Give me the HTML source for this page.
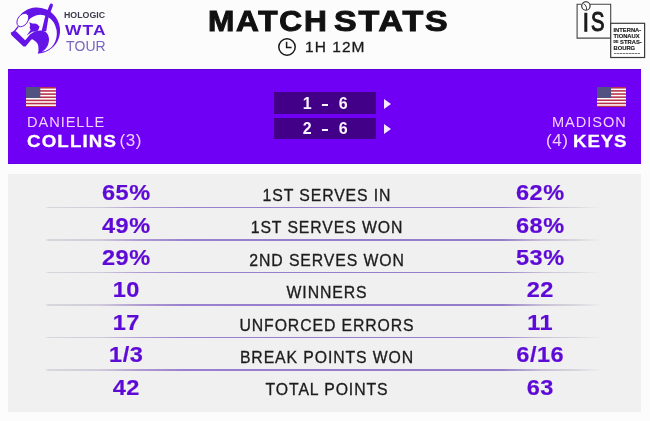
<!DOCTYPE html>
<html><head><meta charset="utf-8">
<style>
*{margin:0;padding:0;box-sizing:border-box}
body{will-change:transform}
html,body{width:650px;height:421px;overflow:hidden;background:#fdfcfd;font-family:"Liberation Sans",Arial,sans-serif}
.a{position:absolute;white-space:nowrap}
#banner{position:absolute;left:8px;top:69.4px;width:633px;height:94.2px;background:#7000f5;box-shadow:inset 0 1.3px 0 #5f00dc,inset 0 -1px 0 #6500e6}
#panel{position:absolute;left:8px;top:174px;width:633px;height:238px;background:#f0f0f0}
.title{left:207.5px;top:4.6px;font-size:29px;font-weight:bold;color:#111;letter-spacing:1.6px;transform-origin:0 0;transform:scaleX(1.09);-webkit-text-stroke:1px #111}
.dur{left:305px;top:38.2px;font-size:15.5px;color:#1a1a1a;letter-spacing:1.05px;-webkit-text-stroke:0.3px #1a1a1a}
.box{position:absolute;left:274px;width:102px;height:21.5px;background:#410087}
.sc{position:absolute;left:275.5px;width:102px;text-align:center;color:#fbf3ff;font-weight:bold;font-size:16px;letter-spacing:2.5px;word-spacing:1.5px}
.dash{display:inline-block;transform:scaleX(1.5)}
.ist{left:613.5px;font-size:5.8px;line-height:7px;font-weight:bold;color:#202020;-webkit-text-stroke:0.15px #202020}
.tri{position:absolute;left:384px;width:0;height:0;border-left:7px solid #f6e8ff;border-top:5px solid transparent;border-bottom:5px solid transparent}
.fn{font-size:13.5px;color:#f3d2ff;letter-spacing:1.6px}
.ln{font-size:17px;color:#fff;font-weight:bold;letter-spacing:0.8px;transform:scaleX(1.1);transform-origin:0 0;-webkit-text-stroke:0.3px #fff}
.seed{font-size:17px;color:#f0d0ff;font-weight:normal;letter-spacing:0.6px}

.sep{position:absolute;left:45px;width:557px;height:1.6px;background:linear-gradient(to right,rgba(200,200,206,0) 0%,rgba(212,210,216,.85) 0.6%,rgb(208,203,218) 9.9%,rgb(175,155,210) 17%,#9a80d0 25%,#937cc9 82%,rgb(200,190,215) 89%,rgba(212,210,216,.8) 95.5%,rgba(220,220,224,0) 100%)}
.lbl{position:absolute;left:0;width:650px;text-align:center;font-size:15.8px;color:#1c1c1c;letter-spacing:0.9px;text-indent:4px;-webkit-text-stroke:0.3px #1c1c1c}
.num{position:absolute;width:100px;text-align:center;font-size:21.8px;font-weight:bold;color:#5e0ad6;letter-spacing:0.5px;text-indent:0.5px;transform:scaleX(1.08);-webkit-text-stroke:0.2px #5e0ad6}
.nl{left:76.4px}
.nr{left:489.8px}
</style></head><body>

<!-- WTA logo -->
<svg class="a" style="left:0;top:0" width="64" height="56" viewBox="0 0 64 56">
  <g fill="#6414e6">
    <path fill-rule="evenodd" d="M20.6 14.4 A23 23 0 1 1 37.5 53.5 L38.5 52 A16.6 18.6 0 1 0 26.5 23 Z"/>
    <path d="M41.5 31.5 L46.2 31.2 L48.4 18 L52.8 6 L52.8 4.2 L50.8 3.3 L49.3 5.6 L45 17 Z"/>
    <path d="M29.8 35 C32.5 32 36.5 30.4 40.5 30.4 C45.5 30.6 48.8 33.5 49 39 C49 45 46.5 50.5 38.3 53.4 C38.6 49 38.7 45.5 37.4 43.5 C36.2 41.7 34.5 40.5 32.5 39.5 Z"/>
    <path d="M10.6 32.8 L13.4 31.2 L16 31.3 L25.2 40.3 L30 34.5 L33.5 33.4 L35 36.5 L30.5 40.6 L25.6 46.5 L23.5 46.6 L11.5 35.3 Z"/>
    <ellipse cx="34.4" cy="27.6" rx="4.7" ry="4.2"/>
    <path d="M29.4 22.2 L33.5 24 L30.5 27 Z"/>
    <path d="M36 25.2 L39.8 26.6 L37.2 29 Z"/>
    <path d="M31 29.5 L33.5 31 L26.6 35.6 Z"/>
  </g>
  <ellipse cx="22.8" cy="20" rx="7.4" ry="5" transform="rotate(-55 22.8 20)" fill="#fff" stroke="#6414e6" stroke-width="0.9"/>
  <path d="M18.4 26.3 L13.5 32.5" stroke="#6414e6" stroke-width="1.3" fill="none"/>
</svg>
<div class="a" style="left:64px;top:9.6px;font-size:8.3px;font-weight:bold;color:#3b3a4c;letter-spacing:0px;transform:scaleX(1.06);transform-origin:0 0">HOLOGIC</div>
<div class="a" style="left:64.5px;top:21.6px;font-size:14px;font-weight:bold;color:#5c16dc;letter-spacing:0.9px;transform:scaleX(1.24);transform-origin:0 0">WTA</div>
<div class="a" style="left:66px;top:37.9px;font-size:14px;color:#7866bd;letter-spacing:0.1px">TOUR</div>

<!-- Title -->
<div class="a title" id="title">MATCH</div><div class="a title" style="left:334px;transform:scaleX(1.17)">STATS</div>
<svg class="a" style="left:278px;top:38.2px" width="18" height="18" viewBox="0 0 18 18">
  <circle cx="9" cy="9" r="8.2" fill="none" stroke="#1a1a1a" stroke-width="1.5"/>
  <path d="M8.6 3.8 V9.4 H13.6" fill="none" stroke="#1a1a1a" stroke-width="1.5"/>
</svg>
<div class="a dur">1H 12M</div>

<!-- IS logo -->
<svg class="a" style="left:570px;top:0" width="80" height="60" viewBox="0 0 80 60">
  <path d="M11.5 4.3 H7.1 V38.1 H40.7 V4.3 H19.5" fill="none" stroke="#444" stroke-width="1.1"/>
  <rect x="40.7" y="23.3" width="33.9" height="34.2" fill="#fff" stroke="#3a3a3a" stroke-width="1.2"/>
  <circle cx="15.9" cy="6" r="4.2" fill="#fff" stroke="#222" stroke-width="1.1"/>
  <path d="M13.4 3.6 C15.6 4.6 16.9 7 16.5 9.8" fill="none" stroke="#222" stroke-width="0.9"/>
  <rect x="14.3" y="12.8" width="3" height="19" fill="#1a1a1a"/>
</svg>
<div class="a" style="left:591.2px;top:6px;font-size:28px;color:#1a1a1a;transform:scaleX(0.72);transform-origin:0 0;-webkit-text-stroke:1.1px #1a1a1a">S</div>
<div class="a ist" style="top:27.3px">INTERNA-</div>
<div class="a ist" style="top:33.1px">TIONAUX</div>
<div class="a ist" style="top:39.4px"><span style="font-size:3.6px;vertical-align:1.4px">DE</span> STRAS-</div>
<div class="a ist" style="top:45px">BOURG</div>
<div class="a" style="left:613.7px;top:52.8px;width:26px;height:1.2px;background:repeating-linear-gradient(to right,#777 0 2px,#bbb 2px 3px)"></div>

<!-- Banner -->
<div id="banner"></div>
<svg class="a" style="left:26.2px;top:86.5px" width="30" height="20.5" viewBox="0 0 30 20.5" preserveAspectRatio="none" id="flagL">
  <rect width="30" height="20.5" fill="#fff"/>
  <g fill="#b8304a">
    <rect y="0" width="30" height="1.58"/><rect y="3.15" width="30" height="1.58"/><rect y="6.3" width="30" height="1.58"/>
    <rect y="9.46" width="30" height="1.58"/><rect y="12.6" width="30" height="1.58"/><rect y="15.77" width="30" height="1.58"/><rect y="18.92" width="30" height="1.58"/>
  </g>
  <rect width="14.3" height="11" fill="#525282"/>
</svg>
<svg class="a" style="left:596.5px;top:86.8px" width="29.5" height="20.3" viewBox="0 0 30 20.5" preserveAspectRatio="none">
  <rect width="30" height="20.5" fill="#fff"/>
  <g fill="#b8304a">
    <rect y="0" width="30" height="1.58"/><rect y="3.15" width="30" height="1.58"/><rect y="6.3" width="30" height="1.58"/>
    <rect y="9.46" width="30" height="1.58"/><rect y="12.6" width="30" height="1.58"/><rect y="15.77" width="30" height="1.58"/><rect y="18.92" width="30" height="1.58"/>
  </g>
  <rect width="14.3" height="11" fill="#525282"/>
</svg>

<div class="a fn" style="left:27px;top:114.2px;font-size:14.6px;letter-spacing:0.95px">DANIELLE</div>
<div class="a ln" id="collins" style="left:27px;top:131.9px;letter-spacing:1.05px">COLLINS</div>
<div class="a seed" id="s3" style="left:119.5px;top:131.4px">(3)</div>
<div class="a fn" id="madison" style="left:552px;top:114.2px;font-size:14.6px;letter-spacing:0.95px">MADISON</div>
<div class="a seed" id="s4" style="left:546px;top:131.4px">(4)</div>
<div class="a ln" id="keys" style="left:573px;top:131.9px">KEYS</div>

<div class="box" style="top:92px"></div>
<div class="box" style="top:117.7px"></div>
<div class="sc" style="top:94.8px">1 <span class="dash">-</span> 6</div>
<div class="sc" style="top:120.3px">2 <span class="dash">-</span> 6</div>
<div class="tri" style="top:99px"></div>
<div class="tri" style="top:124px"></div>

<!-- Stats panel -->
<div id="panel"></div>

<div class="sep" style="top:206.90px"></div>
<div class="sep" style="top:239.35px"></div>
<div class="sep" style="top:271.80px"></div>
<div class="sep" style="top:304.25px"></div>
<div class="sep" style="top:336.70px"></div>
<div class="sep" style="top:369.15px"></div>

<div class="num nl" style="top:180.1px">65%</div><div class="lbl" style="top:186.9px">1ST SERVES IN</div><div class="num nr" style="top:180.1px">62%</div>
<div class="num nl" style="top:212.5px">49%</div><div class="lbl" style="top:219.3px">1ST SERVES WON</div><div class="num nr" style="top:212.5px">68%</div>
<div class="num nl" style="top:244.9px">29%</div><div class="lbl" style="top:251.7px">2ND SERVES WON</div><div class="num nr" style="top:244.9px">53%</div>
<div class="num nl" style="top:277.3px">10</div><div class="lbl" style="top:284.1px">WINNERS</div><div class="num nr" style="top:277.3px">22</div>
<div class="num nl" style="top:309.7px">17</div><div class="lbl" style="top:316.5px">UNFORCED ERRORS</div><div class="num nr" style="top:309.7px">11</div>
<div class="num nl" style="top:342.1px">1/3</div><div class="lbl" style="top:348.9px">BREAK POINTS WON</div><div class="num nr" style="top:342.1px">6/16</div>
<div class="num nl" style="top:374.5px">42</div><div class="lbl" style="top:381.3px">TOTAL POINTS</div><div class="num nr" style="top:374.5px">63</div>

</body></html>
